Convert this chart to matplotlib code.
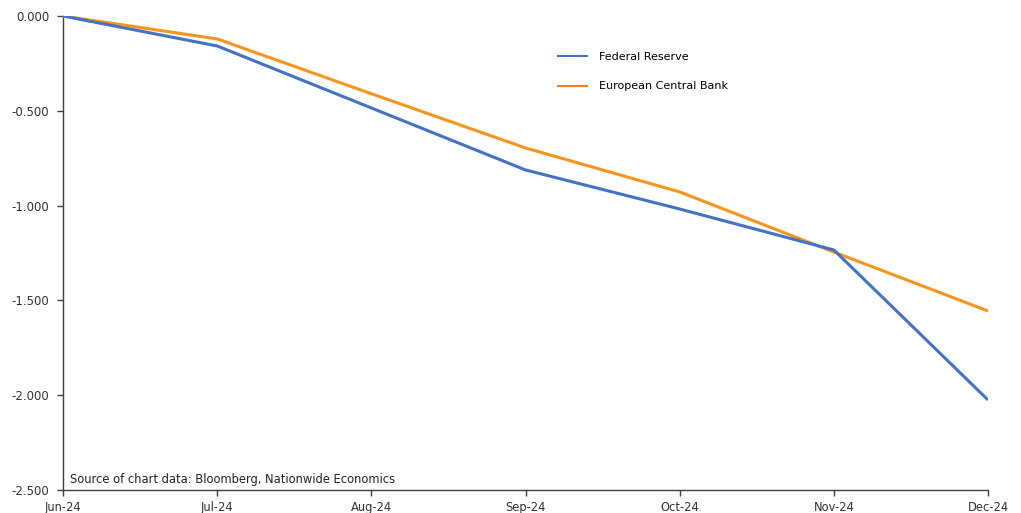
import matplotlib
matplotlib.use("Agg")
import matplotlib.pyplot as plt
from matplotlib.lines import Line2D

months = ["Jun-24", "Jul-24", "Aug-24", "Sep-24", "Oct-24", "Nov-24", "Dec-24"]
fed = [0.0, -0.158, -0.485, -0.812, -1.018, -1.234, -2.025]
ecb = [0.0, -0.121, -0.41, -0.696, -0.928, -1.245, -1.556]
yticks = [0.0, -0.5, -1.0, -1.5, -2.0, -2.5]

plt.rcParams['font.family'] = ['DejaVu Sans']

fig = plt.figure(figsize=(10.21, 5.13), dpi=100)
ax = fig.add_axes([63/1021, 1-490/513, (988-63)/1021, (490-16)/513])

x = list(range(len(months)))
ax.plot(x, fed, color="#4472C4", lw=2.2, solid_capstyle='butt', zorder=3)
ax.plot(x, ecb, color="#F7941D", lw=2.2, solid_capstyle='butt', zorder=2)

ax.set_xlim(0, len(months) - 1)
ax.set_ylim(-2.5, 0.0)
ax.set_xticks(x)
ax.set_xticklabels(months, fontsize=8.3, color="#333333")
ax.set_yticks(yticks)
ax.set_yticklabels([f"{v:.3f}" for v in yticks], fontsize=8.5, color="#333333")
for s in ["top", "right"]:
    ax.spines[s].set_visible(False)
for s in ["left", "bottom"]:
    ax.spines[s].set_color("#404040")
    ax.spines[s].set_linewidth(1.0)
ax.spines["left"].set_zorder(1)
ax.tick_params(axis="both", direction="out", length=4, width=1, color="#404040", pad=4)
ax.tick_params(axis="y", pad=6)

handles = [Line2D([0], [0], color="#4472C4", lw=1.5),
           Line2D([0], [0], color="#ED7D31", lw=1.5)]
ax.legend(handles, ["Federal Reserve", "European Central Bank"],
          loc="upper left", bbox_to_anchor=(548/1021, 1-42/513),
          bbox_transform=fig.transFigure, frameon=False, fontsize=8,
          handlelength=2.6, handletextpad=1.1, labelspacing=1.75)

ax.text(70/1021, 1-480/513, "Source of chart data: Bloomberg, Nationwide Economics",
        transform=fig.transFigure, fontsize=8.3, color="#222222", va="center", ha="left")

fig.savefig("out.png", dpi=100)
